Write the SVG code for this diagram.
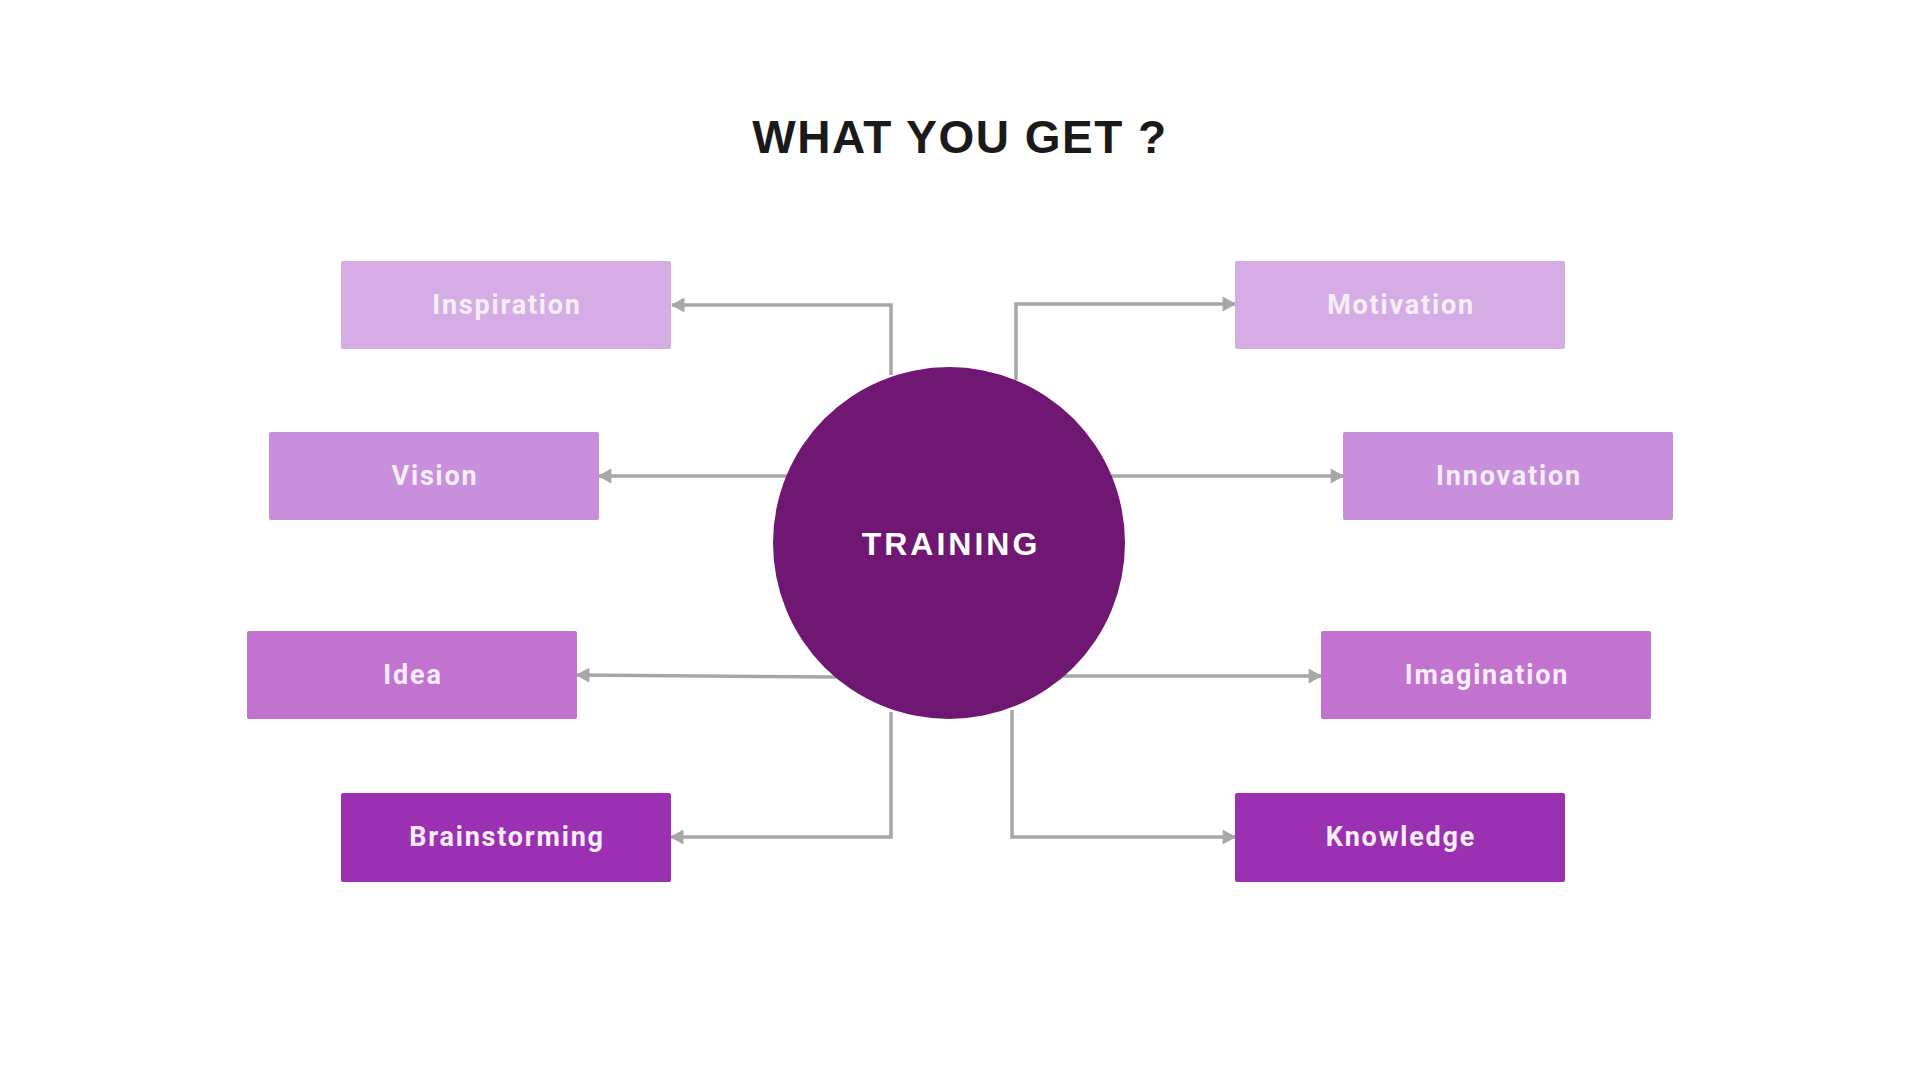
<svg xmlns="http://www.w3.org/2000/svg" width="1920" height="1080" viewBox="0 0 1920 1080">
<defs>
<style>
.title{font-family:"Liberation Sans",Arial,sans-serif;font-weight:bold;font-size:46px;fill:#1a1a1a;letter-spacing:1.5px}
.box{stroke:none}
.lbl{font-family:Roboto,"Liberation Sans",sans-serif;font-weight:bold;font-size:27px;fill:#f7eefa;letter-spacing:1.8px;text-anchor:middle}
.hub{font-family:"Liberation Sans",Arial,sans-serif;font-weight:bold;font-size:32px;fill:#ffffff;letter-spacing:3px;text-anchor:middle}
.c1{fill:#d5ade4}
.c2{fill:#c88fdd}
.c3{fill:#c272cf}
.c4{fill:#9b31b2}
.conn{fill:none;stroke:#a7a7a7;stroke-width:3.5;marker-end:url(#arr)}
</style>
<marker id="arr" markerWidth="5" markerHeight="5" refX="3.6" refY="2.5" orient="auto" markerUnits="strokeWidth">
<path d="M0.2,0.6 L3.6,2.5 L0.2,4.4 Z" fill="#a7a7a7" stroke="#a7a7a7" stroke-width="0.3" stroke-linejoin="round"/>
</marker>
</defs>
<rect width="1920" height="1080" fill="#ffffff"/>
<text class="title" x="960" y="153" text-anchor="middle">WHAT YOU GET ?</text>
<g id="connectors">
<path class="conn" d="M891,375 V305 H672"/>
<path class="conn" d="M1016,380 V304 H1235"/>
<path class="conn" d="M790,476 H599"/>
<path class="conn" d="M1110,476 H1343"/>
<path class="conn" d="M836,677 L577,675"/>
<path class="conn" d="M1062,676 H1321"/>
<path class="conn" d="M891,712 V837 H671"/>
<path class="conn" d="M1012,710 V837 H1235"/>
</g>
<g id="training">
<circle cx="949" cy="543" r="176" fill="#6f1772"/>
<text class="hub" x="951" y="555">TRAINING</text>
</g>
<g id="inspiration">
<rect class="box c1" x="341" y="261" width="330" height="88" rx="2"/>
<text class="lbl" x="507" y="314">Inspiration</text>
</g>
<g id="motivation">
<rect class="box c1" x="1235" y="261" width="330" height="88" rx="2"/>
<text class="lbl" x="1401" y="314">Motivation</text>
</g>
<g id="vision">
<rect class="box c2" x="269" y="432" width="330" height="88" rx="2"/>
<text class="lbl" x="435" y="485">Vision</text>
</g>
<g id="innovation">
<rect class="box c2" x="1343" y="432" width="330" height="88" rx="2"/>
<text class="lbl" x="1509" y="485">Innovation</text>
</g>
<g id="idea">
<rect class="box c3" x="247" y="631" width="330" height="88" rx="2"/>
<text class="lbl" x="413" y="684">Idea</text>
</g>
<g id="imagination">
<rect class="box c3" x="1321" y="631" width="330" height="88" rx="2"/>
<text class="lbl" x="1487" y="684">Imagination</text>
</g>
<g id="brainstorming">
<rect class="box c4" x="341" y="793" width="330" height="89" rx="2"/>
<text class="lbl" x="507" y="846">Brainstorming</text>
</g>
<g id="knowledge">
<rect class="box c4" x="1235" y="793" width="330" height="89" rx="2"/>
<text class="lbl" x="1401" y="846">Knowledge</text>
</g>
</svg>
